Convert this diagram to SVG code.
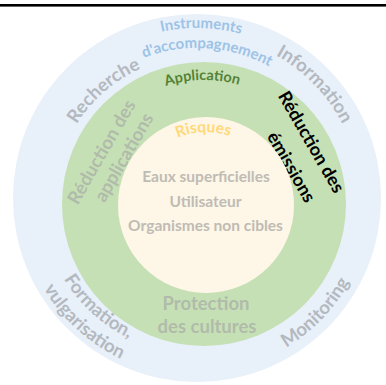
<svg xmlns="http://www.w3.org/2000/svg" width="386" height="385" viewBox="0 0 386 385">
<style>
text{font-family:Lato,"Open Sans","Liberation Sans",sans-serif;font-weight:bold}
.ring{fill:#B4B9BF;font-size:18.5px}
.blue{fill:#9DC3E6;font-size:15px}
.green{fill:#A6A6A6;fill-opacity:0.65;font-size:18.5px}
.inner{fill:#BFBCB5;font-size:15.5px;text-anchor:middle}
</style>
<defs>
<path id="pRech" d="M56,200.5 A141,141 0 0 1 219.1,58.7"/>
<path id="pInfo" d="M185.6,35.4 A163,163 0 0 1 359.1,215"/>
<path id="pInst" d="M79.8,74.9 A170,170 0 0 1 320.1,80.8"/>
<path id="pAcc" d="M89.1,93.8 A150,150 0 0 1 318.4,109.8"/>
<path id="pForm" d="M41.2,205.3 A156,156 0 0 0 204.3,353.8"/>
<path id="pVulg" d="M19.2,206.1 A178,178 0 0 0 205.1,375.8"/>
<path id="pMon" d="M200,372 A174,174 0 0 0 371,195"/>
<path id="pAppl" d="M123,110.1 A124,124 0 0 1 282.4,107.9"/>
<path id="pRisq" d="M157.2,150.8 A73,73 0 0 1 250.9,147.5"/>
</defs>
<rect x="0" y="0" width="386" height="385" fill="#FFFFFF"/>
<rect x="0" y="4" width="386" height="2.6" fill="#000000"/>

<g id="outer-ring">
<circle cx="197" cy="198" r="184" fill="#E8F0FA"/>
<text class="ring"><textPath href="#pRech" startOffset="50%" text-anchor="middle">Recherche</textPath></text>
<text class="ring"><textPath href="#pInfo" startOffset="50%" text-anchor="middle">Information</textPath></text>
<text class="blue"><textPath href="#pInst" startOffset="50%" text-anchor="middle">Instruments</textPath></text>
<text class="blue"><textPath href="#pAcc" startOffset="50%" text-anchor="middle">d'accompagnement</textPath></text>
<text class="ring"><textPath href="#pForm" startOffset="50%" text-anchor="middle">Formation,</textPath></text>
<text class="ring"><textPath href="#pVulg" startOffset="50%" text-anchor="middle">vulgarisation</textPath></text>
<text class="ring"><textPath href="#pMon" startOffset="50%" text-anchor="middle">Monitoring</textPath></text>
</g>

<g id="middle-ring">
<circle cx="204" cy="204" r="142" fill="#C5E0B4"/>
<text style="fill:#548235;font-size:14.5px"><textPath href="#pAppl" startOffset="50%" text-anchor="middle">Application</textPath></text>
<text style="fill:#000000;font-size:18px" text-anchor="middle" transform="translate(306,145) rotate(60)">Réduction des</text>
<text style="fill:#000000;font-size:18px" text-anchor="middle" transform="translate(286,170) rotate(60)">émissions</text>
<text class="green" text-anchor="middle" transform="translate(107,155) rotate(-60)">Réduction des</text>
<text class="green" text-anchor="middle" transform="translate(129.3,160.5) rotate(-60)">applications</text>
<text class="green" x="206" y="310" text-anchor="middle">Protection</text>
<text class="green" x="207" y="333" text-anchor="middle">des cultures</text>
</g>

<g id="inner-circle">
<circle cx="206" cy="205" r="88" fill="#FEF6E6"/>
<text style="fill:#FFD97A;font-size:15.5px"><textPath href="#pRisq" startOffset="50%" text-anchor="middle">Risques</textPath></text>
<text class="inner" x="206" y="182">Eaux superficielles</text>
<text class="inner" x="205.5" y="207">Utilisateur</text>
<text class="inner" x="205.5" y="231">Organismes non cibles</text>
</g>

<g id="connectors"/>
</svg>
